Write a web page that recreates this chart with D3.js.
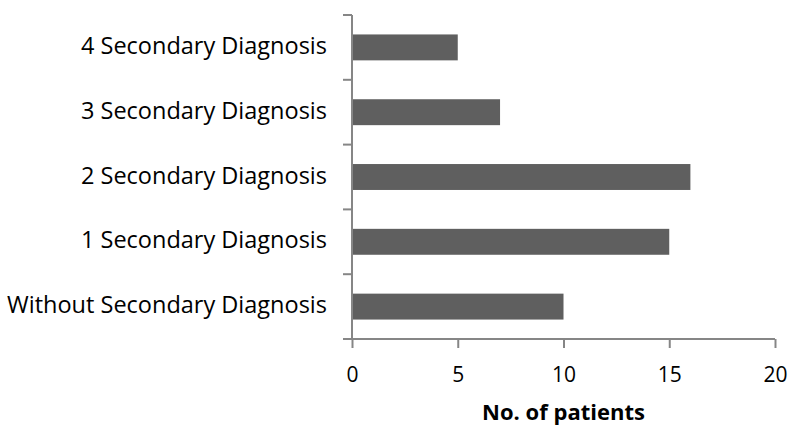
<!DOCTYPE html>
<html>
<head>
<meta charset="utf-8">
<script src="https://cdn.jsdelivr.net/npm/d3@7"></script>
<style>
  html, body { margin: 0; padding: 0; background: #fff; }
  svg { display: block; font-family: "Open Sans", "Liberation Sans", sans-serif; }
</style>
</head>
<body>
<svg id="chart" width="791" height="426"></svg>
<script>
// Patients by number of secondary diagnoses
const categories = [
  "4 Secondary Diagnosis",
  "3 Secondary Diagnosis",
  "2 Secondary Diagnosis",
  "1 Secondary Diagnosis",
  "Without Secondary Diagnosis"
];
const patients = [5, 7, 16, 15, 10];
const xTicks = [0, 5, 10, 15, 20];
const xTitle = "No. of patients";

const svg = d3.select("#chart");
const margin = { left: 352, right: 16, top: 15, bottom: 87 };
const W = 791, H = 426;

const x = d3.scaleLinear().domain([0, 20]).range([margin.left, W - margin.right]);
const y = d3.scaleBand().domain(categories).range([margin.top, H - margin.bottom])
  .paddingInner(0.6).paddingOuter(0.3);

const axisColor = "#868686";

// bars
svg.append("g").selectAll("rect")
  .data(categories.map((c, i) => ({ c, v: patients[i] })))
  .join("rect")
  .attr("x", x(0))
  .attr("y", d => y(d.c))
  .attr("width", d => x(d.v) - x(0))
  .attr("height", y.bandwidth())
  .attr("fill", "#5f5f5f");

// category axis: boundary ticks between bands, pointing left
const yAxis = svg.append("g");
const step = y.step();
const bounds = d3.range(categories.length + 1).map(i => margin.top + i * step);
yAxis.append("line")
  .attr("x1", x(0)).attr("x2", x(0))
  .attr("y1", margin.top).attr("y2", H - margin.bottom)
  .attr("stroke", axisColor).attr("stroke-width", 2);
yAxis.selectAll("line.tick").data(bounds).join("line")
  .attr("class", "tick")
  .attr("x1", x(0) - 9).attr("x2", x(0))
  .attr("y1", d => d).attr("y2", d => d)
  .attr("stroke", axisColor).attr("stroke-width", 2);
yAxis.selectAll("text").data(categories).join("text")
  .attr("x", x(0) - 25)
  .attr("y", d => y(d) + y.bandwidth() / 2 + 6.5)
  .attr("text-anchor", "end")
  .attr("font-size", 23.5)
  .attr("fill", "#000")
  .text(d => d);

// value axis
const xAxis = d3.axisBottom(x).tickValues(xTicks).tickSize(9);
const gx = svg.append("g")
  .attr("transform", `translate(0,${H - margin.bottom})`)
  .call(xAxis);
gx.select(".domain").attr("stroke", axisColor).attr("stroke-width", 2)
  .attr("d", `M${x(0) - 9},0H${x(20)}`);
gx.selectAll(".tick line").attr("stroke", axisColor).attr("stroke-width", 2);
gx.selectAll(".tick text")
  .attr("y", 43).attr("dy", null)
  .attr("font-size", 21).attr("fill", "#000")
  .attr("font-family", "'Open Sans', sans-serif");

svg.append("text")
  .attr("x", x(10))
  .attr("y", 420)
  .attr("text-anchor", "middle")
  .attr("font-size", 22)
  .attr("font-weight", "bold")
  .attr("fill", "#000")
  .text(xTitle);
</script>
</body>
</html>
